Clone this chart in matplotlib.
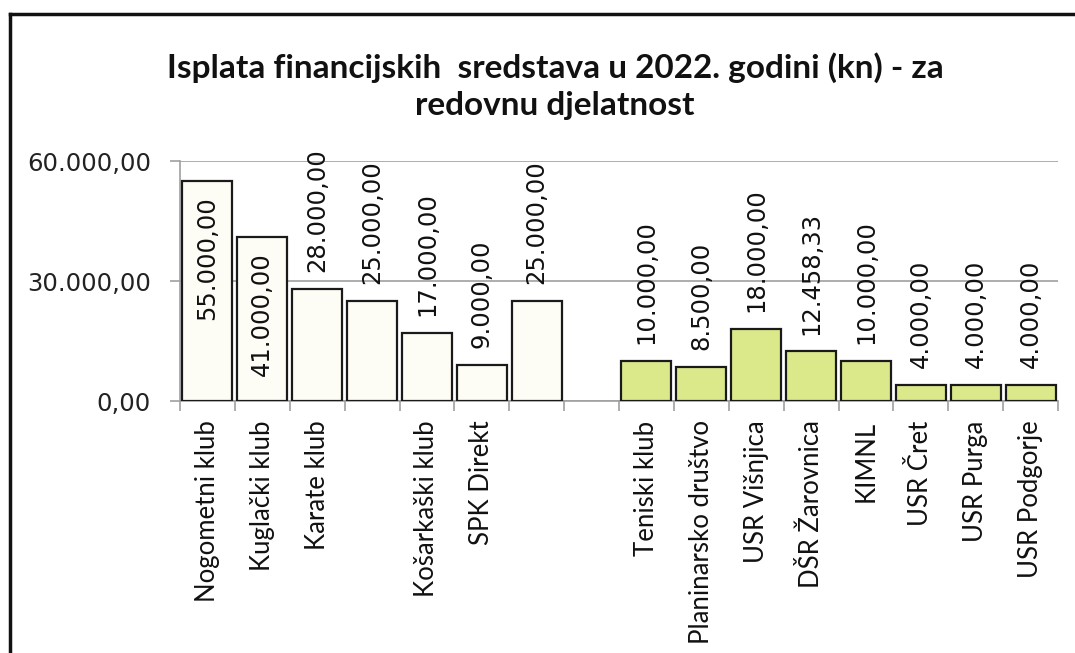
import matplotlib
matplotlib.use("Agg")
import matplotlib.pyplot as plt
from matplotlib.lines import Line2D

categories = ["Nogometni klub", "Kuglački klub", "Karate klub", "", "Košarkaški klub",
              "SPK Direkt", "", "", "Teniski klub", "Planinarsko društvo", "USR Višnjica",
              "DŠR Žarovnica", "KIMNL", "USR Čret", "USR Purga", "USR Podgorje"]
values = [55000, 41000, 28000, 25000, 17000, 9000, 25000, None,
          10000, 8500, 18000, 12458.33, 10000, 4000, 4000, 4000]
groups = ["white"] * 7 + [None] + ["green"] * 8
yticks = [0, 30000, 60000]

def fmt(v):
    s = f"{v:,.2f}"
    return s.replace(",", "X").replace(".", ",").replace("X", ".")

fig = plt.figure(figsize=(10.75, 6.53), dpi=100)
W, H = 1075, 653
ax = fig.add_axes([180 / W, 1 - 401 / H, (1058 - 180) / W, (401 - 161) / H])

colors = {"white": "#fdfdf6", "green": "#dce98a"}
num_font = "DejaVu Sans"
lab_font = ["Lato", "DejaVu Sans"]

for i, (v, g) in enumerate(zip(values, groups)):
    if v is None:
        continue
    ax.bar(i, v, width=0.91, color=colors[g], edgecolor="#1a1a1a", linewidth=1.6, zorder=3)
    if v > 40000:
        ax.annotate(fmt(v), (i, v), xytext=(0, -11), textcoords="offset points",
                    rotation=90, ha="center", va="top", fontsize=17.5,
                    family=num_font, color="#111111", zorder=4)
    else:
        ax.annotate(fmt(v), (i, v), xytext=(0, 12), textcoords="offset points",
                    rotation=90, ha="center", va="bottom", fontsize=17.5,
                    family=num_font, color="#111111", zorder=4, annotation_clip=False)

ax.set_xlim(-0.5, len(categories) - 0.5)
ax.set_ylim(0, 60000)
ax.set_yticks(yticks)
ax.set_yticklabels([fmt(v) for v in yticks], family=num_font, fontsize=17.5, color="#222222")
ax.yaxis.grid(True, color="#a0a0a0", linewidth=1.2, zorder=0)
ax.set_axisbelow(True)

ax.set_xticks(range(len(categories)))
ax.set_xticklabels(categories, rotation=90, family=lab_font, fontsize=18.5, color="#111111")
ax.tick_params(axis="x", length=0, pad=14)
ax.set_xticks([i - 0.5 for i in range(len(categories) + 1)], minor=True)
ax.tick_params(axis="x", which="minor", length=7, color="#a0a0a0", width=1.2)
ax.tick_params(axis="y", length=7, color="#a0a0a0", width=1.2, pad=14)

for s in ["top", "right"]:
    ax.spines[s].set_visible(False)
for s in ["left", "bottom"]:
    ax.spines[s].set_color("#a0a0a0")
    ax.spines[s].set_linewidth(1.2)

title_font = ["Lato", "DejaVu Sans"]
fig.text(555 / W, 1 - 68 / H, "Isplata financijskih  sredstava u 2022. godini (kn) - za",
         ha="center", va="center", fontsize=24, fontweight="bold",
         family=title_font, color="#111111")
fig.text(555 / W, 1 - 105 / H, "redovnu djelatnost",
         ha="center", va="center", fontsize=24, fontweight="bold",
         family=title_font, color="#111111")

fig.add_artist(Line2D([10 / W, 10 / W], [0, 1 - 14 / H], color="#111111", linewidth=2.5,
                      transform=fig.transFigure))
fig.add_artist(Line2D([10 / W, 1], [1 - 14 / H, 1 - 14 / H], color="#111111", linewidth=2.5,
                      transform=fig.transFigure))

fig.savefig("out.png", dpi=100)
